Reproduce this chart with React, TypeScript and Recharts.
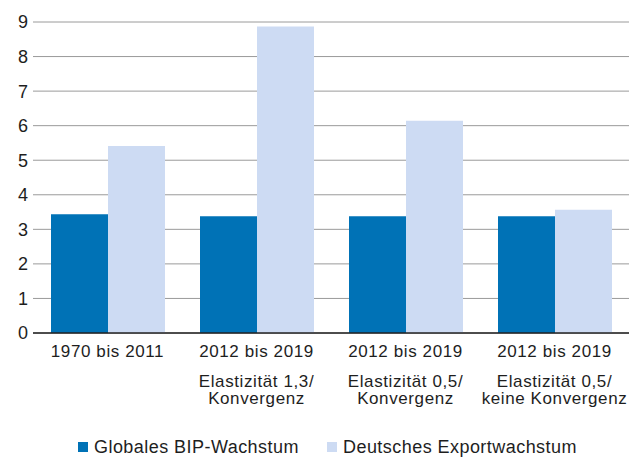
import React from 'react';
import { BarChart, Bar, XAxis, YAxis, CartesianGrid, Legend } from 'recharts';

const categories = ['1970 bis 2011', '2012 bis 2019', '2012 bis 2019', '2012 bis 2019'];
const subLine1 = ['', 'Elastizität 1,3/', 'Elastizität 0,5/', 'Elastizität 0,5/'];
const subLine2 = ['', 'Konvergenz', 'Konvergenz', 'keine Konvergenz'];
const bipGrowth = [3.44, 3.38, 3.38, 3.38];
const exportGrowth = [5.41, 8.87, 6.14, 3.57];
const yTicks = [0, 1, 2, 3, 4, 5, 6, 7, 8, 9];
const seriesNames = ['Globales BIP-Wachstum', 'Deutsches Exportwachstum'];

const DARK = '#0072b6';
const LIGHT = '#cddbf3';
const TEXT = '#1e1e1e';
const FONT = '"Liberation Sans", Arial, Helvetica, sans-serif';

const data = categories.map((c, i) => ({
  idx: String(i),
  cat: c,
  bip: bipGrowth[i],
  exp: exportGrowth[i],
}));

const XTick = (props: any) => {
  const { x, y, payload } = props;
  const i = Number(payload.value);
  const common = {
    textAnchor: 'middle' as const,
    fill: TEXT,
    fontSize: 17,
    letterSpacing: 0.6,
    fontFamily: FONT,
  };
  return (
    <g>
      <text x={x} y={y + 24} {...common}>
        {categories[i]}
      </text>
      {subLine1[i] && (
        <text x={x} y={y + 53.5} {...common}>
          {subLine1[i]}
        </text>
      )}
      {subLine2[i] && (
        <text x={x} y={y + 71} {...common}>
          {subLine2[i]}
        </text>
      )}
    </g>
  );
};

const legendLefts = [78, 327];

const LegendContent = () => (
  <div
    style={{
      position: 'relative',
      height: 30,
      width: 644,
      fontFamily: FONT,
      fontSize: 18,
      letterSpacing: 0.45,
      color: TEXT,
    }}
  >
    {[DARK, LIGHT].map((c, i) => (
      <div
        key={i}
        style={{
          position: 'absolute',
          left: legendLefts[i],
          top: 10,
          height: 20,
          display: 'flex',
          alignItems: 'center',
          whiteSpace: 'nowrap',
        }}
      >
        <span style={{ display: 'inline-block', width: 10, height: 10, background: c, marginRight: 6 }} />
        <span style={{ lineHeight: '20px' }}>{seriesNames[i]}</span>
      </div>
    ))}
  </div>
);

export default function App() {
  return (
    <div style={{ position: 'absolute', left: 0, top: 0, background: '#fff' }}>
      <BarChart
        width={644}
        height={457}
        data={data}
        margin={{ top: 22, right: 15, left: 0, bottom: 0 }}
        barGap={0}
      >
        <CartesianGrid vertical={false} stroke="#9a9a9a" strokeWidth={1} />
        <XAxis
          dataKey="idx"
          tick={<XTick />}
          tickLine={false}
          tickSize={0}
          tickMargin={0}
          height={94}
          axisLine={{ stroke: '#222', strokeWidth: 1.5 }}
          interval={0}
        />
        <YAxis
          domain={[0, 9]}
          ticks={yTicks}
          width={33}
          axisLine={false}
          tickLine={false}
          tickSize={0}
          tickMargin={5}
          tick={{ fill: TEXT, fontSize: 18, fontFamily: FONT }}
        />
        <Legend
          verticalAlign="bottom"
          height={30}
          wrapperStyle={{ left: 0, width: 644 }}
          content={<LegendContent />}
        />
        <Bar dataKey="bip" name={seriesNames[0]} fill={DARK} barSize={57} isAnimationActive={false} />
        <Bar dataKey="exp" name={seriesNames[1]} fill={LIGHT} barSize={57} isAnimationActive={false} />
      </BarChart>
    </div>
  );
}
